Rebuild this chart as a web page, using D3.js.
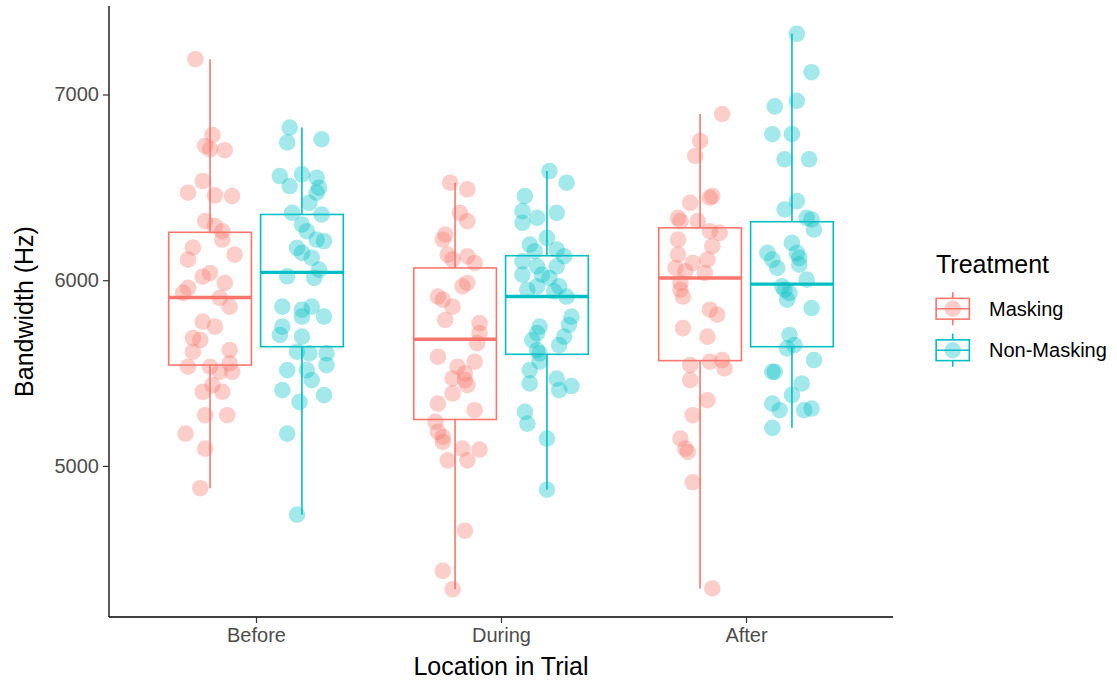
<!DOCTYPE html>
<html>
<head>
<meta charset="utf-8">
<script src="https://cdn.jsdelivr.net/npm/d3@7"></script>
<style>
  html, body { margin: 0; padding: 0; background: #fff; }
  svg { display: block; }
  text { font-family: "Liberation Sans", Arial, sans-serif; }
</style>
</head>
<body>
<svg id="chart" width="1117" height="680"></svg>
<script>
// ---------- data ----------
const categories = ["Before", "During", "After"];
const treatments = ["Masking", "Non-Masking"];
const colors = ["#F8766D", "#00BFC4"];
const yTicks = [5000, 6000, 7000];
const xTitle = "Location in Trial";
const yTitle = "Bandwidth (Hz)";
const legendTitle = "Treatment";

// box statistics, order: Before-M, Before-NM, During-M, During-NM, After-M, After-NM
const boxLow    = [4880, 4738, 4336, 4872, 4340, 5205];
const boxQ1     = [5543, 5642, 5250, 5601, 5567, 5642];
const boxMedian = [5907, 6042, 5682, 5912, 6012, 5979];
const boxQ3     = [6258, 6354, 6066, 6132, 6282, 6315];
const boxHigh   = [7190, 6822, 6525, 6588, 6895, 7327];

// observations (Hz) and their jitter (fraction of a category step)
const beforeMaskingValues = [7190,6781,6723,6705,6700,6534,6471,6457,6453,6318,6291,6264,6219,6176,6111,6138,6039,6019,5985,5959,5932,5905,5858,5777,5750,5688,5678,5615,5624,5534,5534,5507,5507,5552,5435,5399,5399,5273,5273,5174,5093,4880];
const beforeMaskingJitter = [-0.06,0.01,-0.02,0.00,0.06,-0.03,-0.09,0.02,0.09,-0.02,0.02,0.05,0.05,-0.07,-0.09,0.10,0.00,-0.03,0.06,-0.09,-0.11,0.04,0.08,-0.03,0.02,-0.07,-0.04,-0.07,0.08,-0.09,0.00,0.04,0.09,0.08,0.01,-0.03,0.05,-0.02,0.07,-0.10,-0.02,-0.04];

const beforeNonMaskingValues = [6822,6742,6759,6561,6570,6552,6507,6498,6471,6417,6363,6354,6300,6264,6219,6174,6147,6120,6210,6057,6021,6012,5858,5841,5858,5804,5804,5750,5705,5696,5615,5606,5606,5543,5516,5516,5462,5408,5381,5345,5174,4738];
const beforeNonMaskingJitter = [-0.05,-0.06,0.08,-0.09,0.00,0.06,-0.05,0.07,0.06,0.03,-0.04,0.08,0.00,0.02,0.06,-0.02,0.00,0.04,0.09,0.07,-0.06,0.05,-0.08,0.00,0.04,0.00,0.09,-0.08,-0.09,0.00,-0.02,0.03,0.10,0.10,0.02,-0.06,0.04,-0.08,0.09,-0.01,-0.06,-0.02];

const duringMaskingValues = [6525,6489,6363,6318,6246,6219,6138,6129,6111,6093,5985,5967,5912,5895,5858,5786,5769,5715,5661,5588,5561,5534,5498,5471,5462,5435,5390,5336,5300,5237,5183,5156,5129,5093,5088,5030,5030,4651,4435,4336];
const duringMaskingJitter = [-0.02,0.05,0.02,0.05,-0.04,-0.05,-0.03,0.05,-0.01,0.08,0.05,0.03,-0.07,-0.05,-0.01,-0.04,0.10,0.10,0.09,-0.07,0.08,0.01,0.04,-0.01,0.04,0.05,-0.01,-0.07,0.08,-0.08,-0.07,-0.05,-0.05,0.03,0.10,-0.03,0.05,0.04,-0.05,-0.01];

const duringNonMaskingValues = [6588,6525,6453,6372,6363,6336,6309,6228,6192,6156,6165,6129,6102,6075,6075,6030,6030,6012,5967,5967,5949,5940,5912,5804,5759,5750,5696,5715,5678,5651,5624,5606,5516,5470,5561,5444,5408,5430,5291,5228,5147,4872];
const duringNonMaskingJitter = [0.01,0.08,-0.09,-0.10,0.04,-0.04,-0.10,0.00,-0.07,-0.05,0.04,0.07,-0.10,-0.04,0.04,-0.10,-0.02,0.01,-0.04,0.05,-0.08,0.03,0.08,0.10,0.09,-0.03,0.07,-0.04,-0.06,0.05,-0.04,-0.03,-0.07,0.04,-0.03,-0.07,0.05,0.10,-0.09,-0.08,0.00,0.00];

const afterMaskingValues = [6895,6750,6669,6453,6444,6417,6336,6318,6318,6264,6255,6219,6183,6138,6111,6093,6066,6048,6039,5985,5949,5912,5841,5814,5742,5696,5543,5561,5570,5525,5462,5354,5273,5147,5093,5075,4912,4340];
const afterMaskingJitter = [0.09,0.00,-0.02,0.05,0.04,-0.04,-0.09,-0.08,-0.01,0.04,0.08,-0.09,0.05,-0.09,0.03,-0.03,-0.10,-0.06,0.02,-0.08,-0.08,-0.07,0.04,0.07,-0.07,0.03,-0.04,0.04,0.09,0.10,-0.04,0.03,-0.03,-0.08,-0.06,-0.05,-0.03,0.05];

const afterNonMaskingValues = [7327,7120,6966,6936,6786,6786,6651,6651,6426,6381,6336,6327,6273,6201,6147,6147,6111,6120,6066,6084,6003,5949,5931,5895,5967,5850,5705,5651,5633,5570,5507,5507,5444,5381,5336,5300,5300,5309,5205];
const afterNonMaskingJitter = [0.02,0.08,0.02,-0.07,-0.08,0.00,-0.03,0.07,0.02,-0.03,0.06,0.08,0.09,0.00,-0.10,0.02,-0.08,0.03,-0.06,0.03,0.06,-0.03,-0.01,-0.02,-0.04,0.08,-0.01,0.01,-0.02,0.09,-0.07,-0.08,0.04,0.00,-0.08,-0.05,0.05,0.08,-0.08];

// ---------- assemble groups ----------
const groupValues = [beforeMaskingValues, beforeNonMaskingValues, duringMaskingValues, duringNonMaskingValues, afterMaskingValues, afterNonMaskingValues];
const groupJitter = [beforeMaskingJitter, beforeNonMaskingJitter, duringMaskingJitter, duringNonMaskingJitter, afterMaskingJitter, afterNonMaskingJitter];
const groups = [];
categories.forEach((c, ci) => treatments.forEach((t, ti) => {
  const gi = ci * 2 + ti;
  groups.push({
    category: c, treatment: t, ti,
    low: boxLow[gi], q1: boxQ1[gi], median: boxMedian[gi], q3: boxQ3[gi], high: boxHigh[gi],
    points: groupValues[gi].map((v, k) => ({ value: v, jitter: groupJitter[gi][k] }))
  });
}));

// ---------- layout ----------
const svg = d3.select("#chart");
const plot = { left: 109, right: 893, top: 6, bottom: 617 };

const allValues = groupValues.flat();
const [vMin, vMax] = d3.extent(allValues);
const pad = (vMax - vMin) * 0.05;
const y = d3.scaleLinear().domain([vMin - pad, vMax + pad]).range([plot.bottom, plot.top]);
const x = d3.scalePoint().domain(categories).range([plot.left, plot.right]).padding(0.6);
const step = x.step();
const dodge = d3.scaleBand().domain(treatments).range([-0.375 * step, 0.375 * step]).paddingInner(0.1).paddingOuter(0.05);
const color = d3.scaleOrdinal().domain(treatments).range(colors);

const boxW = dodge.bandwidth();
const gx = g => x(g.category) + dodge(g.treatment) + boxW / 2;

// ---------- boxes ----------
const boxLayer = svg.append("g");
const bg = boxLayer.selectAll("g.box").data(groups).join("g").attr("class", "box");
bg.append("line")
  .attr("x1", gx).attr("x2", gx)
  .attr("y1", d => y(d.q3)).attr("y2", d => y(d.high))
  .attr("stroke", d => color(d.treatment)).attr("stroke-width", 1.6);
bg.append("line")
  .attr("x1", gx).attr("x2", gx)
  .attr("y1", d => y(d.q1)).attr("y2", d => y(d.low))
  .attr("stroke", d => color(d.treatment)).attr("stroke-width", 1.6);
bg.append("rect")
  .attr("x", d => gx(d) - boxW / 2).attr("width", boxW)
  .attr("y", d => y(d.q3)).attr("height", d => y(d.q1) - y(d.q3))
  .attr("fill", "none")
  .attr("stroke", d => color(d.treatment)).attr("stroke-width", 1.6);
bg.append("line")
  .attr("x1", d => gx(d) - boxW / 2).attr("x2", d => gx(d) + boxW / 2)
  .attr("y1", d => y(d.median)).attr("y2", d => y(d.median))
  .attr("stroke", d => color(d.treatment)).attr("stroke-width", 3.4);

// ---------- points ----------
const pointLayer = svg.append("g");
groups.forEach(g => {
  pointLayer.selectAll(null).data(g.points).join("circle")
    .attr("cx", p => gx(g) + p.jitter * step)
    .attr("cy", p => y(p.value))
    .attr("r", 8.3)
    .attr("fill", color(g.treatment))
    .attr("fill-opacity", 0.36);
});

// ---------- axes ----------
const yAxis = svg.append("g")
  .attr("transform", `translate(${plot.left},0)`)
  .call(d3.axisLeft(y).tickValues(yTicks).tickFormat(d3.format("d")).tickSizeOuter(0).tickSize(6).tickPadding(4));
const xAxis = svg.append("g")
  .attr("transform", `translate(0,${plot.bottom})`)
  .call(d3.axisBottom(x).tickSizeOuter(0).tickSize(6).tickPadding(5));
[yAxis, xAxis].forEach(a => {
  a.select(".domain").attr("stroke", "#000").attr("stroke-width", 1.3);
  a.selectAll(".tick line").attr("stroke", "#333").attr("stroke-width", 1.2);
  a.selectAll(".tick text").attr("fill", "#4D4D4D").style("font-size", "20px")
    .style("font-family", "'Liberation Sans', Arial, sans-serif");
});
yAxis.select(".domain").attr("d", `M0,${plot.top}V${plot.bottom}`);
xAxis.select(".domain").attr("d", `M${plot.left},0H${plot.right}`);

svg.append("text")
  .attr("x", (plot.left + plot.right) / 2).attr("y", 675)
  .attr("text-anchor", "middle").style("font-size", "25px").attr("fill", "#000")
  .text(xTitle);
svg.append("text")
  .attr("transform", `translate(33,${(plot.top + plot.bottom) / 2}) rotate(-90)`)
  .attr("text-anchor", "middle").style("font-size", "25px").attr("fill", "#000")
  .text(yTitle);

// ---------- legend ----------
const legend = svg.append("g").attr("transform", "translate(936,0)");
legend.append("text").attr("x", 0).attr("y", 273).style("font-size", "25px").attr("fill", "#000").text(legendTitle);
const keySize = 41.5;
const keyTop = 288;
treatments.forEach((t, i) => {
  const k = legend.append("g").attr("transform", `translate(-4,${keyTop + i * keySize})`);
  const c = color(t);
  const cx = keySize / 2;
  k.append("line").attr("x1", cx).attr("x2", cx).attr("y1", keySize * 0.1).attr("y2", keySize * 0.25).attr("stroke", c).attr("stroke-width", 1.6);
  k.append("line").attr("x1", cx).attr("x2", cx).attr("y1", keySize * 0.75).attr("y2", keySize * 0.9).attr("stroke", c).attr("stroke-width", 1.6);
  k.append("rect").attr("x", keySize * 0.1).attr("y", keySize * 0.25).attr("width", keySize * 0.8).attr("height", keySize * 0.5)
    .attr("fill", "#fff").attr("stroke", c).attr("stroke-width", 1.6);
  k.append("line").attr("x1", keySize * 0.1).attr("x2", keySize * 0.9).attr("y1", keySize / 2).attr("y2", keySize / 2).attr("stroke", c).attr("stroke-width", 1.6);
  k.append("circle").attr("cx", cx).attr("cy", keySize / 2).attr("r", 8.3).attr("fill", c).attr("fill-opacity", 0.36);
  legend.append("text").attr("x", 53).attr("y", keyTop + i * keySize + keySize / 2 + 7)
    .style("font-size", "20px").attr("fill", "#000").text(t);
});
</script>
</body>
</html>
